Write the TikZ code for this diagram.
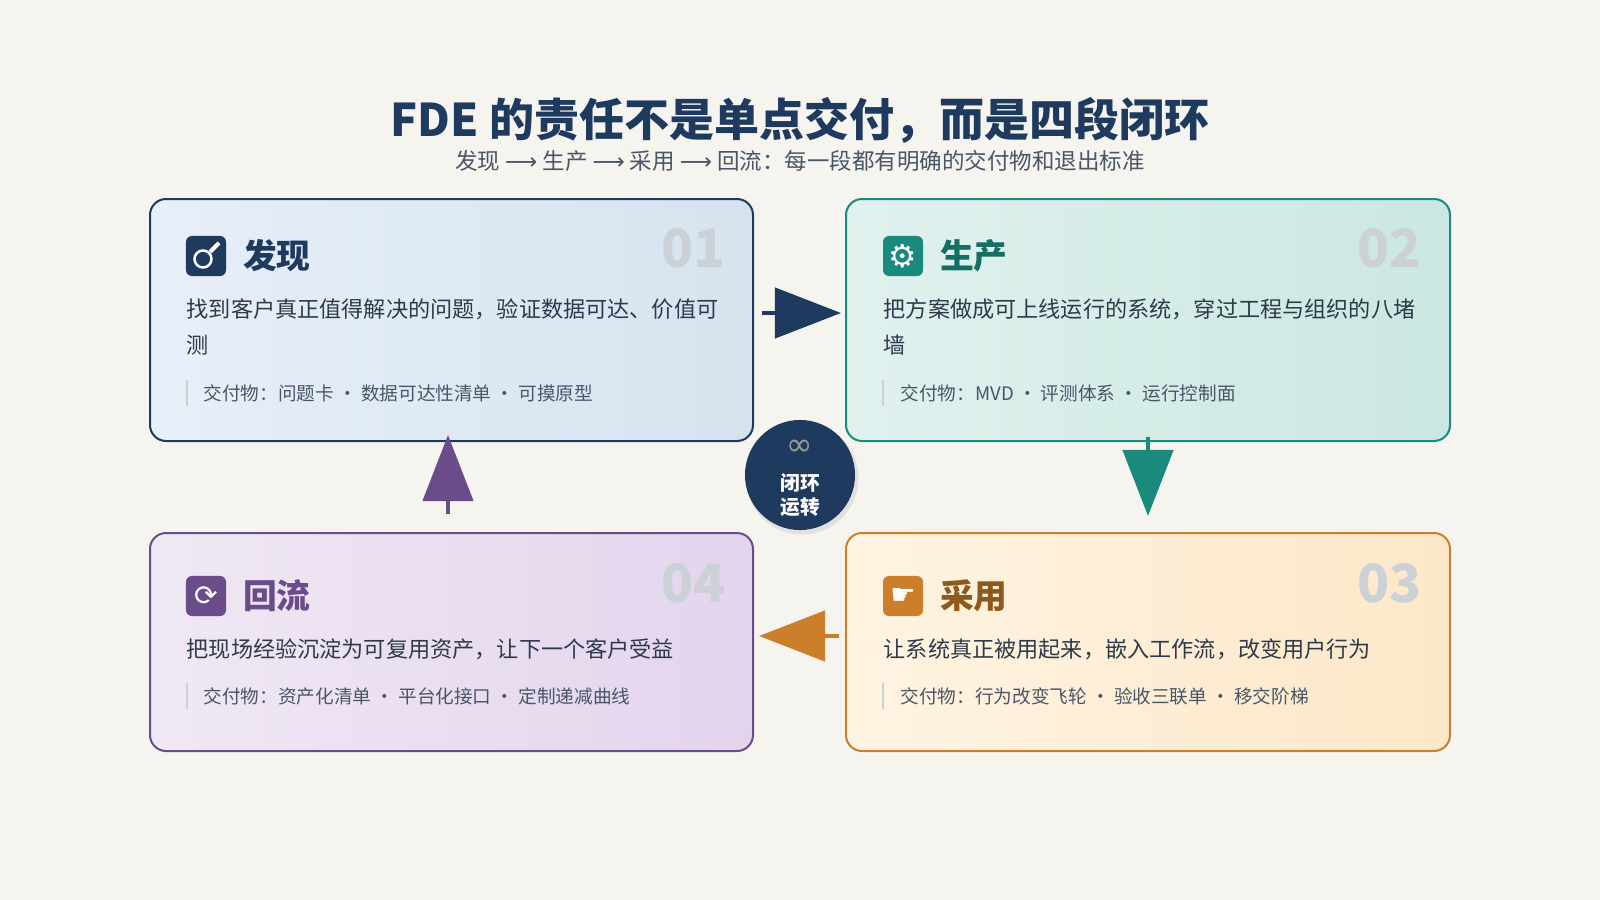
\documentclass[tikz,border=0pt]{standalone}
\usepackage{fontspec}
\setmainfont{Noto Sans CJK SC}
\newfontfamily\symfont{DejaVu Sans}
\usetikzlibrary{arrows.meta,positioning}
\definecolor{bgcol}{HTML}{F5F4EE}
\definecolor{navy}{HTML}{1E3A5F}
\definecolor{teal}{HTML}{1A8A7D}
\definecolor{amber}{HTML}{CC7F2A}
\definecolor{plum}{HTML}{6B4C8A}
\definecolor{inkcol}{HTML}{2E3A4A}
\definecolor{subcol}{HTML}{4A5668}
\definecolor{numcol}{HTML}{CBD1D6}
\definecolor{blueA}{HTML}{E7EFF8}\definecolor{blueB}{HTML}{D6E3EF}
\definecolor{tealA}{HTML}{E0F1EE}\definecolor{tealB}{HTML}{CBE7E1}
\definecolor{ambA}{HTML}{FEF4E2}\definecolor{ambB}{HTML}{FDE7C8}
\definecolor{plumA}{HTML}{F0E8F4}\definecolor{plumB}{HTML}{E3D4EC}
\tikzset{
  card/.style={draw=#1, line width=0.02cm, rounded corners=0.16cm},
  icon/.style={fill=#1, rounded corners=0.06cm, minimum size=0.4cm, inner sep=0pt, text=white},
  head/.style={anchor=west, font=\fontsize{9.6}{12}\selectfont\bfseries},
  desc/.style={anchor=north west, align=left, text=inkcol, font=\fontsize{6.3}{10.3}\selectfont, inner sep=0pt},
  deliv/.style={anchor=west, text=subcol, font=\fontsize{5.3}{6}\selectfont, inner sep=0pt},
  bignum/.style={anchor=east, text=numcol, font=\fontsize{15}{18}\selectfont\bfseries},
  flow/.style={draw=#1, line width=0.045cm, -{Triangle[length=0.66cm,width=0.5cm]}},
}
\begin{document}
\begin{tikzpicture}[x=0.01cm,y=-0.01cm]
\fill[bgcol] (0,0) rectangle (1600,900);
\useasboundingbox (0,0) rectangle (1600,900);

% title
\node[text=navy, font=\fontsize{12.8}{15}\selectfont\bfseries] (title) at (800,120) {FDE 的责任不是单点交付，而是四段闭环};
\node[text=subcol, font=\fontsize{6.4}{8}\selectfont] (subtitle) at (800,161) {发现 {\symfont ⟶} 生产 {\symfont ⟶} 采用 {\symfont ⟶} 回流：每一段都有明确的交付物和退出标准};

% cards
\shade[left color=blueA, right color=blueB, card=navy] (150,199) rectangle (753,441);
\shade[left color=tealA, right color=tealB, card=teal] (846,199) rectangle (1450,441);
\shade[left color=ambA, right color=ambB, card=amber] (846,533) rectangle (1450,751);
\shade[left color=plumA, right color=plumB, card=plum] (150,533) rectangle (753,751);

% card 01
\node[icon=navy] (ic1) at (206,256) {};
\draw[white, line width=0.025cm] (ic1.center) ++(-0.03cm,-0.03cm) circle (0.085cm);
\draw[white, line width=0.04cm] (ic1.center) ++(0.04cm,0.04cm) -- ++(0.09cm,0.09cm);
\node[head, text=navy, right=0.04cm of ic1] (h1) {发现};
\node[bignum] (n1) at (738,248) {01};
\node[desc] (d1) at (186,298) {找到客户真正值得解决的问题，验证数据可达、价值可\\测};
\node[deliv] (v1) at (203,393) {交付物：问题卡 · 数据可达性清单 · 可摸原型};

% card 02
\node[icon=teal, font=\symfont\fontsize{9}{9}\selectfont] (ic2) at (903,256) {⚙};
\node[head, text=teal!80!black, right=0.04cm of ic2] (h2) {生产};
\node[bignum] (n2) at (1434,248) {02};
\node[desc] (d2) at (883,298) {把方案做成可上线运行的系统，穿过工程与组织的八堵\\墙};
\node[deliv] (v2) at (900,393) {交付物：MVD · 评测体系 · 运行控制面};

% card 03
\node[icon=amber, font=\symfont\fontsize{8}{8}\selectfont] (ic3) at (903,596) {☛};
\node[head, text=amber!70!black, right=0.04cm of ic3] (h3) {采用};
\node[bignum] (n3) at (1434,583) {03};
\node[desc] (d3) at (883,638) {让系统真正被用起来，嵌入工作流，改变用户行为};
\node[deliv] (v3) at (900,696) {交付物：行为改变飞轮 · 验收三联单 · 移交阶梯};

% card 04
\node[icon=plum, font=\symfont\fontsize{8}{8}\selectfont] (ic4) at (206,596) {⟳};
\node[head, text=plum, right=0.04cm of ic4] (h4) {回流};
\node[bignum] (n4) at (738,583) {04};
\node[desc] (d4) at (186,638) {把现场经验沉淀为可复用资产，让下一个客户受益};
\node[deliv] (v4) at (203,696) {交付物：资产化清单 · 平台化接口 · 定制递减曲线};

% deliverable bars
\foreach \y in {393,696} {
  \draw[numcol, line width=0.025cm] (187,\y-13) -- (187,\y+13);
  \draw[numcol, line width=0.025cm] (883,\y-13) -- (883,\y+13);
}

% flow arrows
\coordinate (a1s) at (762,313); \coordinate (a1e) at (841,313);
\coordinate (a2s) at (1148,437); \coordinate (a2e) at (1148,516);
\coordinate (a3s) at (839,636); \coordinate (a3e) at (759,636);
\coordinate (a4s) at (448,514); \coordinate (a4e) at (448,435);
\draw[flow=navy] (a1s) -- (a1e);
\draw[flow=teal] (a2s) -- (a2e);
\draw[flow=amber] (a3s) -- (a3e);
\draw[flow=plum] (a4s) -- (a4e);

% hub
\fill[black!25, opacity=0.35] (802,478) circle (0.565cm);
\node[circle, fill=navy, minimum size=1.1cm, inner sep=0pt] (hub) at (800,475) {};
\node[text=gray!80, font=\symfont\fontsize{9}{9}\selectfont] (inf) at (800,448) {∞};
\node[text=white, align=center, font=\fontsize{5.6}{7}\selectfont\bfseries] (hubtxt) at (800,495) {闭环\\运转};
\end{tikzpicture}
\end{document}
